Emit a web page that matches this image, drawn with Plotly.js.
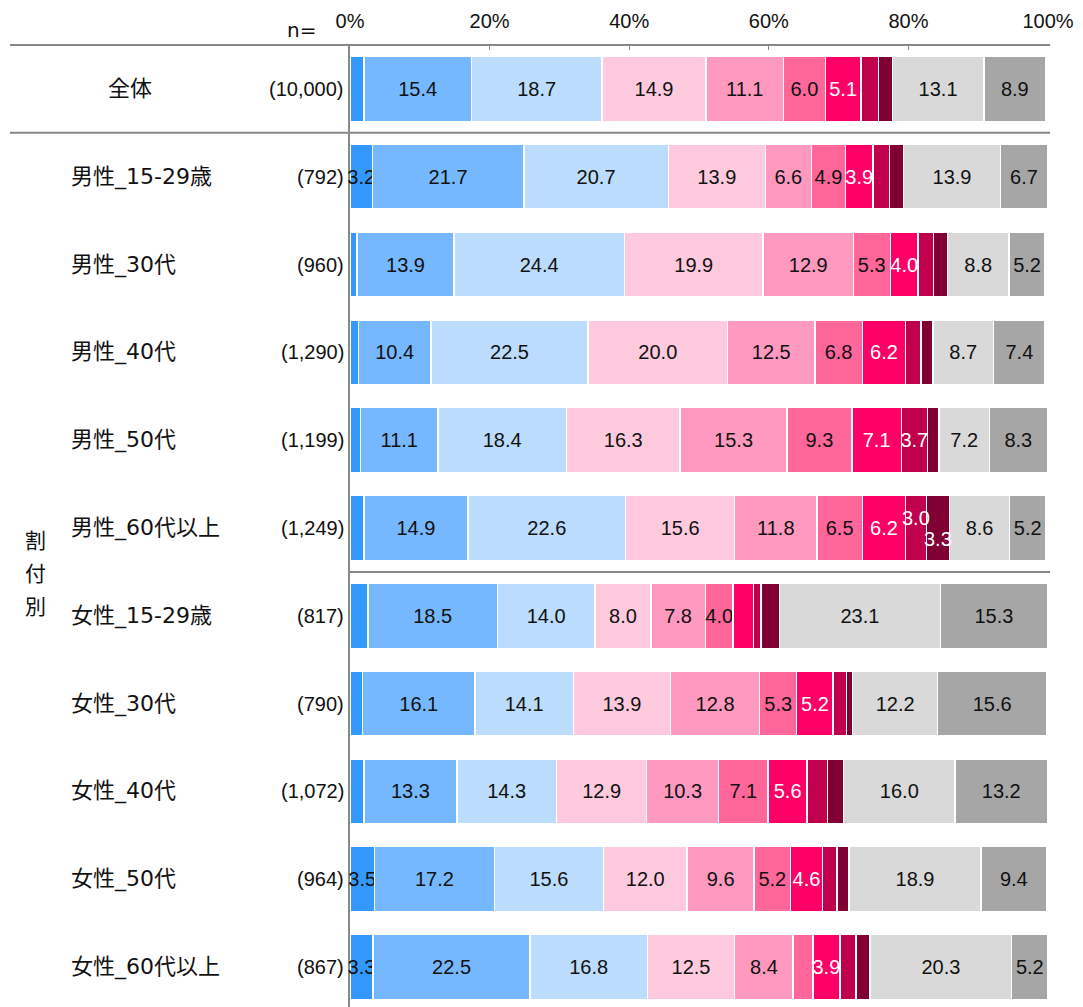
<!DOCTYPE html>
<html>
<head>
<meta charset="utf-8">
<script src="https://cdn.plot.ly/plotly-3.0.1.min.js"></script>
<style>
  html, body { margin: 0; padding: 0; background: #ffffff; }
  #chart { width: 1083px; height: 1007px; }
</style>
</head>
<body>
<div id="chart"></div>
<script>
// ---- data ----
const categories = ['全体', '男性_15-29歳', '男性_30代', '男性_40代', '男性_50代', '男性_60代以上',
                    '女性_15-29歳', '女性_30代', '女性_40代', '女性_50代', '女性_60代以上'];
const sampleSizes = ['(10,000)', '(792)', '(960)', '(1,290)', '(1,199)', '(1,249)',
                     '(817)', '(790)', '(1,072)', '(964)', '(867)'];
const seriesNames = ['回答1', '回答2', '回答3', '回答4', '回答5', '回答6',
                     '回答7', '回答8', '回答9', '回答10', '回答11'];
const s1  = [2.0, 3.2, 1.0, 1.2, 1.5, 2.0, 2.6, 1.8, 2.0, 3.5, 3.3];
const s2  = [15.4, 21.7, 13.9, 10.4, 11.1, 14.9, 18.5, 16.1, 13.3, 17.2, 22.5];
const s3  = [18.7, 20.7, 24.4, 22.5, 18.4, 22.6, 14.0, 14.1, 14.3, 15.6, 16.8];
const s4  = [14.9, 13.9, 19.9, 20.0, 16.3, 15.6, 8.0, 13.9, 12.9, 12.0, 12.5];
const s5  = [11.1, 6.6, 12.9, 12.5, 15.3, 11.8, 7.8, 12.8, 10.3, 9.6, 8.4];
const s6  = [6.0, 4.9, 5.3, 6.8, 9.3, 6.5, 4.0, 5.3, 7.1, 5.2, 2.8];
const s7  = [5.1, 3.9, 4.0, 6.2, 7.1, 6.2, 2.9, 5.2, 5.6, 4.6, 3.9];
const s8  = [2.5, 2.4, 2.2, 2.2, 3.7, 3.0, 1.1, 1.9, 2.9, 2.1, 2.3];
const s9  = [2.0, 2.0, 2.0, 1.7, 1.7, 3.3, 2.6, 0.9, 2.3, 1.7, 2.0];
const s10 = [13.1, 13.9, 8.8, 8.7, 7.2, 8.6, 23.1, 12.2, 16.0, 18.9, 20.3];
const s11 = [8.9, 6.7, 5.2, 7.4, 8.3, 5.2, 15.3, 15.6, 13.2, 9.4, 5.2];
const xTickVals = [0, 20, 40, 60, 80, 100];
const xTickText = ['0%', '20%', '40%', '60%', '80%', '100%'];
const groupLabel = ['割', '付', '別'];

// ---- styles ----
const series = [s1, s2, s3, s4, s5, s6, s7, s8, s9, s10, s11];
const colors = ['#3399ff', '#75b8ff', '#bbdcfc', '#ffc9de', '#ff99bf', '#ff6699',
                '#ff0066', '#c0004d', '#800033', '#d9d9d9', '#a6a6a6'];
const textColors = ['#111', '#111', '#111', '#111', '#111', '#111',
                    '#ffffff', '#ffffff', '#ffffff', '#111', '#111'];
const LABEL_MIN = 3.0;      // smaller segments carry no label
const NARROW = 3.5;         // consecutive labelled segments narrower than this get staggered
const numFont = 'Liberation Sans, Arial, Noto Sans CJK JP, sans-serif';
const jpFont = 'DejaVu Sans, Noto Sans CJK JP, sans-serif';
const NUM_SIZE = 20;

// decide which labels are staggered (pairs of adjacent narrow labelled segments)
const stagger = series.map(vals => vals.map(() => 0));
categories.forEach((c, r) => {
  for (let k = 0; k < series.length - 1; k++) {
    const a = series[k][r], b = series[k + 1][r];
    if (a >= LABEL_MIN && b >= LABEL_MIN && a < NARROW && b < NARROW &&
        stagger[k][r] === 0) {
      stagger[k][r] = 1;      // up
      stagger[k + 1][r] = -1; // down
    }
  }
});

const traces = series.map((vals, i) => ({
  type: 'bar',
  orientation: 'h',
  name: seriesNames[i],
  y: categories,
  x: vals,
  text: vals.map((v, r) => (v >= LABEL_MIN && stagger[i][r] === 0) ? v.toFixed(1) : ''),
  textposition: 'inside',
  insidetextanchor: 'middle',
  textangle: 0,
  constraintext: 'none',
  cliponaxis: false,
  textfont: { family: numFont, size: NUM_SIZE, color: textColors[i] },
  marker: { color: colors[i], line: { color: '#ffffff', width: 1.5 } },
  hoverinfo: 'skip'
}));

// ---- annotations ----
const PX_L = 350, PX_W = 698, PX_T = 45, PX_H = 962;
const px2x = px => (px - PX_L) / PX_W;
const py2y = py => 1 - (py - PX_T) / PX_H;

const annotations = [];
categories.forEach((c, i) => {
  const isTotal = i === 0;
  annotations.push({
    xref: 'paper', yref: 'y', x: isTotal ? px2x(130) : px2x(69), y: c,
    xanchor: isTotal ? 'center' : 'left', yanchor: 'middle',
    text: c, showarrow: false,
    font: { family: jpFont, size: 22, color: '#111' }
  });
  annotations.push({
    xref: 'paper', yref: 'y', x: px2x(346), y: c,
    xanchor: 'right', yanchor: 'middle',
    text: sampleSizes[i], showarrow: false,
    font: { family: numFont, size: 20, color: '#111' }
  });
});
// staggered value labels, placed at the segment centre via the data axes
categories.forEach((c, r) => {
  let cum = 0;
  series.forEach((vals, k) => {
    const v = vals[r];
    if (stagger[k][r] !== 0) {
      annotations.push({
        xref: 'x', yref: 'y', x: cum + v / 2, y: c,
        xanchor: 'center', yanchor: 'middle',
        yshift: stagger[k][r] > 0 ? 10 : -11,
        text: v.toFixed(1), showarrow: false,
        font: { family: numFont, size: NUM_SIZE, color: textColors[k] }
      });
    }
    cum += v;
  });
});
annotations.push({
  xref: 'paper', yref: 'paper', x: px2x(301), y: py2y(30),
  xanchor: 'center', yanchor: 'middle', text: 'n=', showarrow: false,
  font: { family: 'DejaVu Sans, sans-serif', size: 20, color: '#111' }
});
groupLabel.forEach((ch, j) => {
  annotations.push({
    xref: 'paper', yref: 'paper', x: px2x(35), y: py2y(541 + j * 33),
    xanchor: 'center', yanchor: 'middle', text: ch, showarrow: false,
    font: { family: jpFont, size: 21, color: '#111' }
  });
});

const lineStyle = { color: '#888888', width: 2 };
const shapes = [
  { type: 'line', xref: 'paper', yref: 'paper', x0: px2x(10), x1: px2x(1050), y0: 1, y1: 1, line: lineStyle },
  { type: 'line', xref: 'paper', yref: 'y', x0: px2x(10), x1: px2x(1050), y0: 0.5, y1: 0.5, line: lineStyle },
  { type: 'line', xref: 'paper', yref: 'y', x0: 0, x1: px2x(1050), y0: 5.5, y1: 5.5, line: lineStyle },
  { type: 'line', xref: 'paper', yref: 'paper', x0: -0.0014, x1: -0.0014, y0: 0, y1: 1, line: lineStyle, layer: 'below' }
];

const layout = {
  width: 1083, height: 1007,
  margin: { l: 350, r: 35, t: 45, b: 0, pad: 0 },
  paper_bgcolor: '#ffffff', plot_bgcolor: '#ffffff',
  barmode: 'stack',
  bargap: 0.26,
  showlegend: false,
  xaxis: {
    side: 'top', range: [0, 100], fixedrange: true,
    tickmode: 'array', tickvals: xTickVals, ticktext: xTickText,
    ticks: 'inside', ticklen: 5, tickwidth: 1, tickcolor: '#888888',
    ticklabelstandoff: 12,
    showgrid: false, zeroline: false, showline: false,
    tickfont: { family: numFont, size: 20, color: '#111' }
  },
  yaxis: {
    type: 'category', categoryorder: 'array', categoryarray: categories,
    range: [10.455, -0.5], fixedrange: true,
    showticklabels: false, showgrid: false, zeroline: false, showline: false, ticks: ''
  },
  annotations: annotations,
  shapes: shapes,
  font: { family: numFont, size: 20, color: '#111' }
};

Plotly.newPlot('chart', traces, layout, { displayModeBar: false, staticPlot: true });
</script>
</body>
</html>
